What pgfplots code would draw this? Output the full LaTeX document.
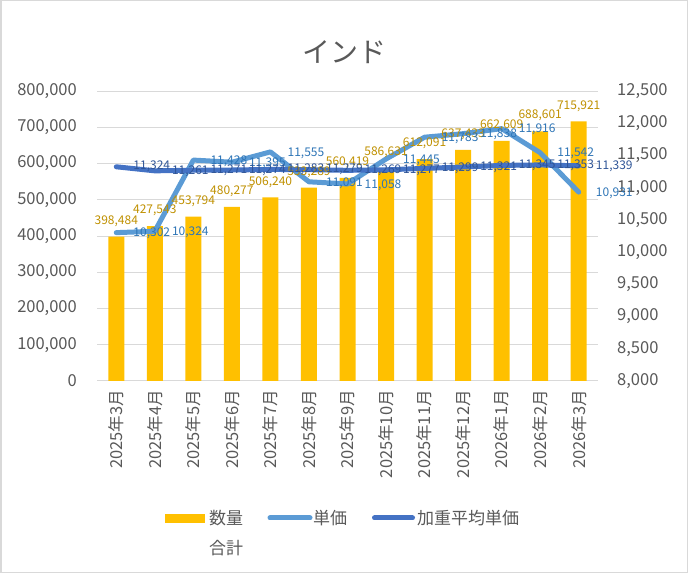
\documentclass[border=0pt]{standalone}
\usepackage{pgfplots}
\pgfplotsset{compat=1.18}
\usepackage{fontspec}
\setmainfont{Noto Sans CJK JP}
\definecolor{cgrid}{HTML}{D9D9D9}
\definecolor{ctext}{HTML}{595959}
\definecolor{cbar}{HTML}{FFC000}
\definecolor{cbarlab}{HTML}{BF9000}
\definecolor{clight}{HTML}{5B9BD5}
\definecolor{clightlab}{HTML}{2E75B6}
\definecolor{cdark}{HTML}{4472C4}
\definecolor{cdarklab}{HTML}{2F5597}
\tikzset{lab/.style={font=\fontsize{12bp}{14bp}\selectfont, inner sep=1bp}}
\pgfplotsset{
  base/.style={at={(97bp,192bp)}, anchor=south west, width=501bp, height=290bp,
    scale only axis, xmin=-0.5, xmax=12.5, clip=false, scaled y ticks=false,
    /pgf/number format/.cd, fixed, precision=0, 1000 sep={,}, assume math mode=true, /pgfplots/.cd,
    tick label style={font=\fontsize{16.5bp}{18bp}\selectfont, text=ctext}}
}
\begin{document}
\begin{tikzpicture}
\path[use as bounding box] (0bp,0bp) rectangle (688bp,573bp);
\draw[cgrid, line width=1.5bp] (0.75bp,0.75bp) rectangle (687.25bp,572.25bp);
% axis 1: bars
\begin{axis}[base, ymin=0, ymax=800000, ytick={0,100000,...,800000},
  ymajorgrids, major grid style={draw=cgrid, line width=1bp},
  axis y line*=left, axis x line*=bottom,
  y axis line style={draw=none}, x axis line style={draw=cgrid, line width=1bp, -},
  xtick={0,...,12},
  xticklabels={2025年3月,2025年4月,2025年5月,2025年6月,2025年7月,2025年8月,2025年9月,2025年10月,2025年11月,2025年12月,2026年1月,2026年2月,2026年3月},
  xtick style={draw=none}, ytick style={draw=none},
  major tick length=0pt,
  extra x ticks={-0.5,0.5,...,12.5}, extra x tick labels={},
  extra x tick style={grid=none, major tick length=5bp, tick align=outside, tick style={draw=cgrid, line width=1bp}},
  xticklabel style={rotate=90, anchor=east, inner sep=0pt},
  xticklabel shift=9bp,
  yticklabel style={anchor=east, inner sep=0pt},
  yticklabel shift=20bp]
\addplot[ybar, bar width=16bp, fill=cbar, draw=none] coordinates {
(0,398484) (1,427543) (2,453794) (3,480277) (4,506240) (5,533289) (6,560419)
(7,586631) (8,612091) (9,637433) (10,662609) (11,688601) (12,715921)};
\end{axis}
% axis 2: lines
\begin{axis}[base, ymin=8000, ymax=12500, ytick={8000,8500,...,12500},
  axis y line*=right, axis x line=none, y axis line style={draw=none},
  ytick style={draw=none}, major tick length=0pt,
  yticklabel style={anchor=west, inner sep=0pt}, yticklabel shift=19bp]
\addplot[clight, line width=5bp, line join=round, line cap=round, mark=none] coordinates {
(0,10302) (1,10324) (2,11428) (3,11395) (4,11555) (5,11091) (6,11058)
(7,11445) (8,11783) (9,11838) (10,11916) (11,11542) (12,10931)};
\addplot[cdark, line width=5bp, line join=round, line cap=round, mark=none] coordinates {
(0,11324) (1,11261) (2,11271) (3,11274) (4,11283) (5,11279) (6,11269)
(7,11277) (8,11299) (9,11321) (10,11345) (11,11353) (12,11339)};
\end{axis}
% axis 3: bar labels
\begin{axis}[base, hide axis, ymin=0, ymax=800000]
\addplot[draw=none, mark=none, nodes near coords, point meta=y,
  every node near coord/.append style={lab, text=cbarlab, anchor=south, yshift=9bp}] coordinates {
(0,398484) (1,427543) (2,453794) (3,480277) (4,506240) (5,533289) (6,560419)
(7,586631) (8,612091) (9,637433) (10,662609) (11,688601) (12,715921)};
\end{axis}
% axis 4: line labels
\begin{axis}[base, hide axis, ymin=8000, ymax=12500]
\addplot[draw=none, mark=none, nodes near coords, point meta=y,
  every node near coord/.append style={lab, text=clightlab, anchor=west, xshift=16bp, yshift=-1bp}] coordinates {
(0,10302) (1,10324) (2,11428) (3,11395) (4,11555) (5,11091) (6,11058)
(7,11445) (8,11783) (9,11838) (10,11916) (11,11542) (12,10931)};
\addplot[draw=none, mark=none, nodes near coords, point meta=y,
  every node near coord/.append style={lab, text=cdarklab, anchor=west, xshift=16bp, yshift=0bp}] coordinates {
(0,11324) (1,11261) (2,11271) (3,11274) (4,11283) (5,11279) (6,11269)
(7,11277) (8,11299) (9,11321) (10,11345) (11,11353) (12,11339)};
\end{axis}
% title
\node[text=ctext, font=\fontsize{28bp}{32bp}\selectfont] at (344bp,521bp) {インド};
% legend
\fill[cbar] (165bp,50bp) rectangle (205bp,59bp);
\node[anchor=west, text=ctext, font=\fontsize{17bp}{20bp}\selectfont, inner sep=0pt] at (209bp,55bp) {数量};
\node[anchor=west, text=ctext, font=\fontsize{17bp}{20bp}\selectfont, inner sep=0pt] at (209bp,25bp) {合計};
\draw[clight, line width=5bp, line cap=round] (270bp,55bp) -- (310bp,55bp);
\node[anchor=west, text=ctext, font=\fontsize{17bp}{20bp}\selectfont, inner sep=0pt] at (313bp,55bp) {単価};
\draw[cdark, line width=5bp, line cap=round] (374.5bp,55bp) -- (412.5bp,55bp);
\node[anchor=west, text=ctext, font=\fontsize{17bp}{20bp}\selectfont, inner sep=0pt] at (417bp,55bp) {加重平均単価};
\end{tikzpicture}
\end{document}
